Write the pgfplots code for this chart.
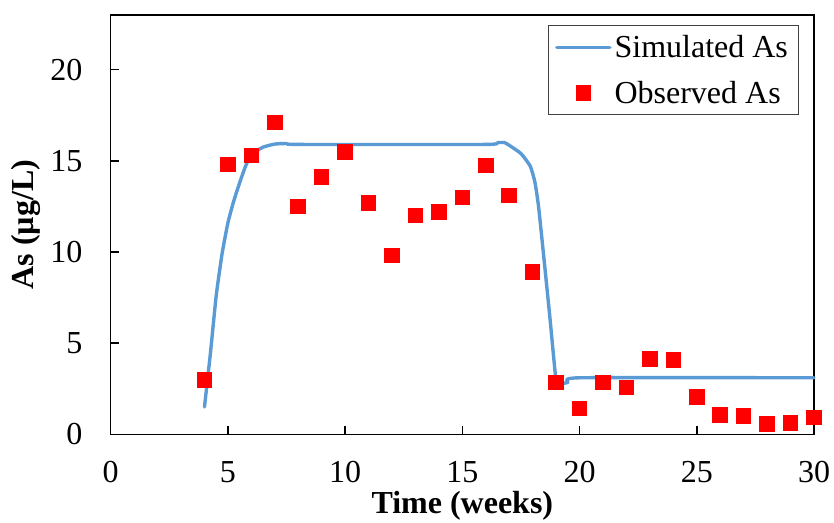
\documentclass[border=0pt]{standalone}
\usepackage{pgfplots}
\pgfplotsset{compat=1.18}
\usepackage{fontspec}
\setmainfont{Liberation Serif}
\definecolor{simblue}{RGB}{91,155,213}
\begin{document}
\begin{tikzpicture}
\path[use as bounding box] (-110.7bp,-88.7bp) rectangle (723.3bp,434.3bp);
\begin{axis}[
  at={(0,0)}, anchor=south west,
  scale only axis,
  width=703.3bp, height=419.3bp,
  xmin=0, xmax=30, ymin=0, ymax=23,
  xtick={0,5,...,30}, ytick={0,5,...,20},
  axis line style={line width=1.6bp, black},
  tick style={line width=1.6bp, black},
  tick align=inside,
  major tick length=8bp,
  xtick pos=bottom, ytick pos=left,
  font=\fontsize{32bp}{37bp}\selectfont,
  /pgf/number format/assume math mode=true,
  xticklabel style={anchor=north, inner sep=0pt, yshift=-27bp},
  yticklabel style={anchor=east, inner sep=0pt, xshift=-28bp},
  xlabel={\textbf{Time (weeks)}},
  ylabel={\textbf{As (µg/L)}},
  every axis x label/.style={at={(axis description cs:0.5,-0.171)}, anchor=center},
  every axis y label/.style={at={(axis description cs:-0.1205,0.5)}, anchor=center, rotate=90},
  legend style={at={(1,1)}, anchor=north east, xshift=-15.7bp, yshift=-10bp,
    draw=black!75, line width=0.8bp, inner xsep=7bp, inner ysep=7bp, row sep=16bp,
    font=\fontsize{32bp}{37bp}\selectfont,
    nodes={inner sep=3bp}},
  legend cell align=left,
  legend image code/.code={\draw[mark repeat=2,mark phase=2,#1] plot coordinates {(0bp,0bp) (26.5bp,0bp) (53bp,0bp)};},
  clip=false,
]
\addplot[simblue, line width=3.4bp, line join=round, line cap=round, smooth, tension=0.3]
coordinates {
(4,1.5) (4.25,4.4) (4.5,7.6) (4.75,9.9) (5,11.6) (5.25,12.8) (5.5,13.8)
(5.75,14.7) (6,15.35) (6.5,15.75) (7,15.92) (7.5,15.95) (8,15.9)
(16,15.9) (16.5,16.0) (16.8,16.0) (17,15.85) (17.5,15.4) (17.9,14.7)
(18.1,13.8) (18.25,12.5) (18.5,9.4) (18.75,6.2) (19,2.9) (19.15,2.75)
(19.5,2.85) (20,3.1) (30,3.1)
};
\addlegendentry{Simulated As}
\addplot[red, only marks, mark=square*, mark size=7.3bp, mark options={fill=red, draw=red, line width=0pt}]
coordinates {
(4,2.97) (5,14.8) (6,15.3) (7,17.1) (8,12.5) (9,14.1) (10,15.5) (11,12.7)
(12,9.8) (13,12.0) (14,12.2) (15,13.0) (16,14.75) (17,13.1) (18,8.9)
(19,2.85) (20,1.42) (21,2.84) (22,2.57) (23,4.12) (24,4.06) (25,2.06)
(26,1.05) (27,1.0) (28,0.57) (29,0.62) (30,0.92)
};
\addlegendentry{Observed As}
\end{axis}
\end{tikzpicture}
\end{document}
